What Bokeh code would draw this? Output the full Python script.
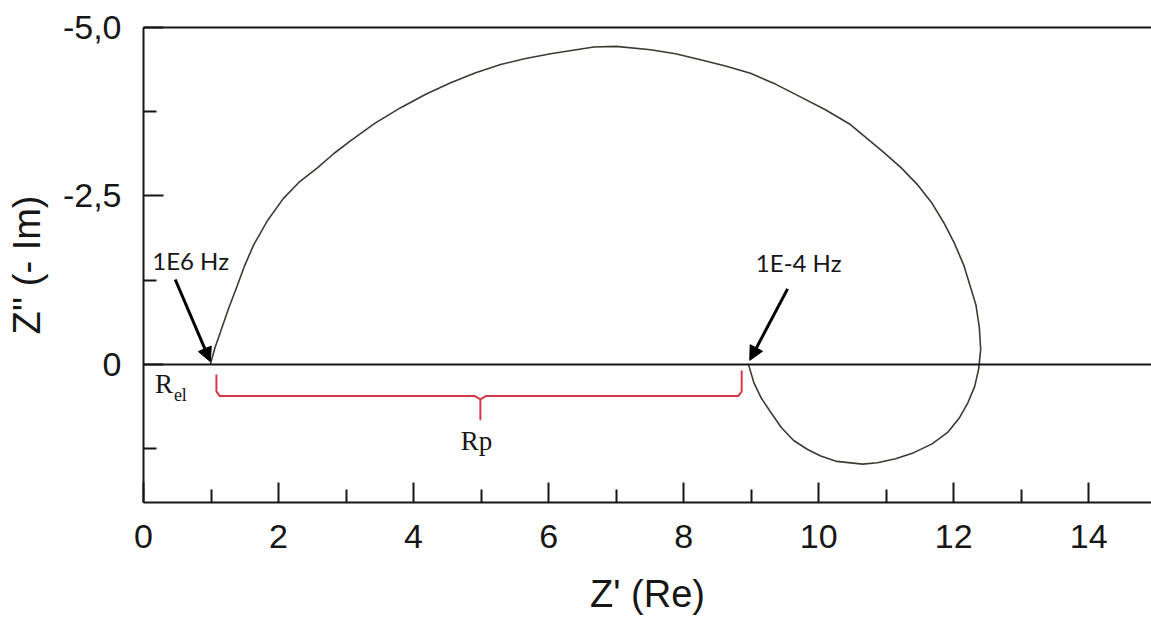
from bokeh.plotting import figure
from bokeh.models import (Range1d, FixedTicker, CustomJSTickFormatter, LinearAxis,
                          Span, Arrow, NormalHead, Label)
from bokeh.embed import file_html
from bokeh.resources import INLINE

# Nyquist plot: real part vs. imaginary part of the impedance
z_re = [0.99, 1.06, 1.14, 1.26, 1.39, 1.50, 1.63, 1.84, 2.07, 2.30, 2.58, 2.82, 3.07,
        3.43, 3.81, 4.18, 4.55, 4.92, 5.29, 5.66, 6.03, 6.67, 7.00, 7.51, 7.88, 8.25,
        8.62, 8.99, 9.36, 9.73, 10.10, 10.47, 10.96, 11.22, 11.47, 11.68, 11.85, 12.01,
        12.15, 12.33, 12.38, 12.40, 12.37, 12.31, 12.21, 12.08, 11.91, 11.68, 11.41,
        11.14, 10.87, 10.65, 10.27, 10.03, 9.83, 9.63, 9.45, 9.29, 9.15, 9.04, 8.96]
z_im = [0.00, -0.25, -0.48, -0.83, -1.17, -1.47, -1.77, -2.14, -2.46, -2.70, -2.92,
        -3.13, -3.32, -3.58, -3.81, -4.01, -4.18, -4.33, -4.45, -4.54, -4.61, -4.71,
        -4.72, -4.67, -4.61, -4.52, -4.43, -4.32, -4.16, -3.97, -3.78, -3.56, -3.15,
        -2.92, -2.66, -2.39, -2.11, -1.80, -1.47, -0.88, -0.55, -0.22, 0.07, 0.33,
        0.57, 0.80, 1.01, 1.18, 1.31, 1.40, 1.46, 1.48, 1.44, 1.36, 1.26, 1.13, 0.94,
        0.71, 0.50, 0.27, 0.00]

x_major = [0, 2, 4, 6, 8, 10, 12, 14]
x_minor = [1, 3, 5, 7, 9, 11, 13]
y_major = [-5.0, -2.5, 0.0]
y_minor = [-3.75, -1.25, 1.25]

# Resistances marked on the real axis
r_el = 1.08
r_end = 8.86

p = figure(width=1151, height=631, output_backend="svg", toolbar_location=None,
           x_range=Range1d(0, 14.93), y_range=Range1d(2.05, -5.0),
           min_border_left=143, min_border_right=0, min_border_top=27,
           min_border_bottom=129)
p.outline_line_color = None
p.xgrid.visible = False
p.ygrid.visible = False
p.background_fill_color = "white"
p.border_fill_color = "white"

sans = "Liberation Sans"
ink = "#161616"

xa = p.xaxis[0]
xa.ticker = FixedTicker(ticks=x_major, minor_ticks=x_minor)
xa.axis_label = "Z' (Re)"
ya = p.yaxis[0]
ya.ticker = FixedTicker(ticks=y_major, minor_ticks=y_minor)
ya.formatter = CustomJSTickFormatter(
    code="return tick == 0 ? '0' : tick.toFixed(1).replace('.', ',');")
ya.axis_label = "Z'' (- Im)"

for ax in (xa, ya):
    ax.axis_line_color = ink
    ax.axis_line_width = 2
    ax.major_tick_in = 20
    ax.major_tick_out = 0
    ax.minor_tick_in = 13
    ax.minor_tick_out = 0
    ax.major_tick_line_color = ink
    ax.major_tick_line_width = 2
    ax.minor_tick_line_color = ink
    ax.minor_tick_line_width = 2
    ax.major_label_text_font = sans
    ax.major_label_text_font_size = "34px"
    ax.major_label_text_color = ink
    ax.axis_label_text_font = sans
    ax.axis_label_text_font_size = "38px"
    ax.axis_label_text_font_style = "normal"
    ax.axis_label_text_color = ink

xa.major_label_standoff = 22
xa.axis_label_standoff = 22
ya.major_label_standoff = 22
ya.axis_label_standoff = 12

# top border of the frame
top = LinearAxis(ticker=FixedTicker(ticks=[]), axis_line_color=ink, axis_line_width=2,
                 major_tick_line_color=None, minor_tick_line_color=None,
                 major_label_text_font_size="0px")
p.add_layout(top, "above")

# Z'' = 0 line
p.add_layout(Span(location=0, dimension="width", line_color=ink, line_width=2))

# impedance curve
p.line(z_re, z_im, line_color="#3b3b33", line_width=1.6)

# bracket spanning the polarisation resistance
mid = (r_el + r_end) / 2 + 0.02
bx = [r_el, r_el, r_el + 0.05, mid - 0.08, mid, mid, mid, mid + 0.08, r_end - 0.05,
      r_end, r_end]
by = [0.15, 0.40, 0.47, 0.47, 0.52, 0.83, 0.52, 0.47, 0.47, 0.40, 0.09]
p.line(bx, by, line_color="#d23a48", line_width=2)

ann_font = "Lato"
p.add_layout(Label(x=0.13, y=-1.32, text="1E6 Hz", text_font=ann_font,
                   text_font_size="24px", text_color=ink))
p.add_layout(Label(x=9.07, y=-1.29, text="1E-4 Hz", text_font=ann_font,
                   text_font_size="24px", text_color=ink))

p.add_layout(Arrow(end=NormalHead(size=14, fill_color="black", line_color="black"),
                   x_start=0.47, y_start=-1.26, x_end=0.99, y_end=-0.04,
                   line_width=3, line_color="black"))
p.add_layout(Arrow(end=NormalHead(size=14, fill_color="black", line_color="black"),
                   x_start=9.54, y_start=-1.12, x_end=8.98, y_end=-0.06,
                   line_width=3, line_color="black"))

serif = "Liberation Serif"
p.add_layout(Label(x=0.17, y=0.52, text="R", text_font=serif,
                   text_font_size="27px", text_color=ink))
p.add_layout(Label(x=0.45, y=0.60, text="el", text_font=serif,
                   text_font_size="18px", text_color=ink))
p.add_layout(Label(x=4.70, y=1.36, text="Rp", text_font=serif,
                   text_font_size="27px", text_color=ink))

open("out.html", "w").write(file_html(p, INLINE))
